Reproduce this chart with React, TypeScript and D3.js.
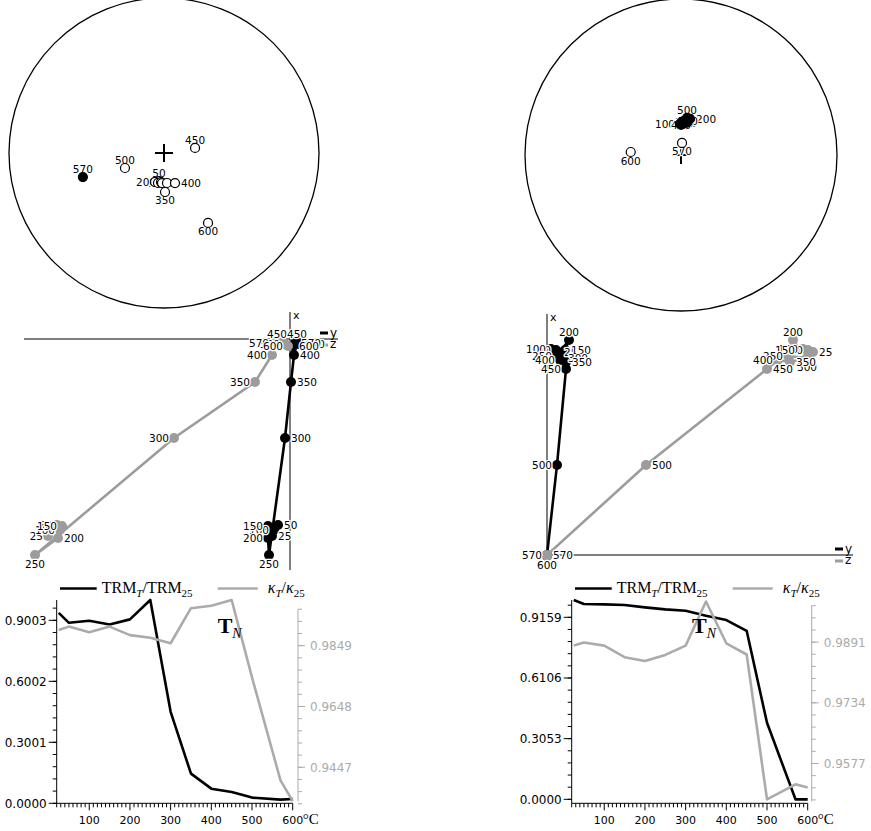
import React from 'react';
import * as d3 from 'd3';

// demagnetisation steps (deg C), shared by both specimens
const STEPS = [25, 50, 100, 150, 200, 250, 300, 350, 400, 450, 500, 570, 600];

// ---- specimen A (left column) ----
const A_DEC = [193.6, 190.1, 197.2, 191.3, 185.9, 183.8, 174.3, 178.5, 159.9, 80.8, 249.0, 253.5, 147.8];
const A_INC = [-74.4, -75.1, -74.1, -74.0, -74.7, -74.2, -74.2, -69.5, -73.2, -73.5, -68.0, 44.6, -45.7];
const A_X = [-1.97, -1.86, -1.91, -1.87, -1.99, -2.16, -0.99, -0.43, -0.16, -0.03, -0.05, -0.04, -0.07];
const A_Y = [-0.18, -0.12, -0.16, -0.22, -0.22, -0.21, -0.05, 0.01, 0.04, 0.07, 0.09, 0.05, 0.03];
const A_Z = [-2.42, -2.33, -2.3, -2.28, -2.32, -2.55, -1.16, -0.35, -0.18, -0.13, -0.05, -0.16, -0.02];
const A_TRM = [0.937, 0.888, 0.898, 0.88, 0.905, 1.0003, 0.45, 0.146, 0.072, 0.056, 0.028, 0.018, 0.021];
const A_KAPPA = [0.9901, 0.9912, 0.9893, 0.9912, 0.9884, 0.9875, 0.9857, 0.9973, 0.9981, 1.0, 0.9744, 0.9404, 0.9335];
const A_TRM_TICKS = [0, 0.3001, 0.6002, 0.9003];
const A_KAPPA_TICKS = [0.9447, 0.9648, 0.9849];

// ---- specimen B (right column) ----
const B_DEC = [1.7, 5.0, 358.2, 8.4, 14.0, 6.9, 10.6, 11.6, 3.7, 0.0, 9.2, 4.8, 273.4];
const B_INC = [72.7, 72.1, 73.7, 71.9, 70.5, 72.6, 72.9, 71.8, 73.7, 74.3, 70.3, -83.7, -63.6];
const B_X = [2.03, 2.05, 2.06, 2.05, 2.15, 1.99, 1.97, 1.93, 1.95, 1.86, 0.9, 0.0, -0.01];
const B_Y = [0.11, 0.09, 0.04, 0.18, 0.22, 0.1, 0.15, 0.19, 0.13, 0.19, 0.1, 0.0, 0.0];
const B_Z = [2.66, 2.61, 2.56, 2.53, 2.46, 2.41, 2.6, 2.43, 2.31, 2.2, 0.99, 0.0, 0.0];
const B_TRM = [1.003, 0.983, 0.981, 0.978, 0.966, 0.956, 0.949, 0.924, 0.902, 0.848, 0.385, 0.0, 0.0];
const B_KAPPA = [0.9882, 0.989, 0.9882, 0.9852, 0.9842, 0.9858, 0.9882, 0.9996, 0.9888, 0.9859, 0.9484, 0.9523, 0.9515];
const B_TRM_TICKS = [0, 0.3053, 0.6106, 0.9159];
const B_KAPPA_TICKS = [0.9577, 0.9734, 0.9891];

const TEMP_TICKS = [100, 200, 300, 400, 500, 600];

const SANS = '"DejaVu Sans", sans-serif';
const SERIF = '"Liberation Serif", "DejaVu Serif", serif';
const GREY = '#9c9c9c';
const GREY_AXIS = '#ababab';

// label placement per step (t/b/l/r, c = under the marker), layout only
const LEFT_LAYOUT = {
  stereo: { cx: 164, cy: 153, R: 155, sides: 'ctcclccbrtttb' },
  zij: { h: [-2.66, 0.48], hr: [24, 338], v: [0.27, -2.31], vr: [312, 570], legendX: 320,
    blackSides: 'rrlllbrrrtrrr', greySides: 'llllrbllltlll' },
  chart: { x0: 56.7, trmDomain: [0, 1.0003], kapDomain: [0.9328, 1.0], kapAxisX: 298 },
};
const RIGHT_LAYOUT = {
  stereo: { cx: 681, cy: 155, R: 156, sides: 'cclcrcccccttbb'.slice(0, 10) + 'tbb' },
  zij: { h: [-0.07, 3.06], hr: [540, 853], v: [2.41, -0.05], vr: [314, 560], legendX: 835,
    blackSides: 'rllrtlrrllllb', greySides: 'rllltlbrlrrrb' },
  chart: { x0: 571.7, trmDomain: [-0.02, 1.003], kapDomain: [0.9474, 1.0], kapAxisX: 811.7 },
};

const halo = { stroke: '#fff', strokeWidth: 2.5, paintOrder: 'stroke' as const, strokeLinejoin: 'round' as const };

function labelAt(x: number, y: number, side: string) {
  if (side === 't') return { x, y: y - 4, textAnchor: 'middle' };
  if (side === 'b') return { x, y: y + 12.5, textAnchor: 'middle' };
  if (side === 'c') return { x, y: y + 4, textAnchor: 'middle' };
  if (side === 'l') return { x: x - 5, y: y + 4, textAnchor: 'end' };
  return { x: x + 6, y: y + 4, textAnchor: 'start' };
}

function Stereonet({ cx, cy, R, sides, dec, inc }: any) {
  const rad = d3.scaleSqrt().domain([0, 1]).range([0, R]);
  const pts = STEPS.map((s, i) => {
    const r = rad(1 - Math.sin((Math.abs(inc[i]) * Math.PI) / 180));
    const a = (dec[i] * Math.PI) / 180;
    return { s, x: cx + r * Math.sin(a), y: cy - r * Math.cos(a), down: inc[i] >= 0, side: sides[i] };
  });
  return (
    <g>
      <circle cx={cx} cy={cy} r={R} fill="none" stroke="#000" strokeWidth={1.3} />
      <path d={`M${cx - 9},${cy}h18M${cx},${cy - 9}v18`} stroke="#000" strokeWidth={2} />
      {pts.map((p) => {
        const l = labelAt(p.x, p.y, p.side);
        return (
          <text key={'l' + p.s} x={l.x} y={l.y} textAnchor={l.textAnchor as any} fontFamily={SANS} fontSize={10.5} {...halo}>
            {p.s}
          </text>
        );
      })}
      {pts.map((p) => (
        <circle key={'p' + p.s} cx={p.x} cy={p.y} r={4.5} fill={p.down ? '#000' : '#fff'} stroke="#000" strokeWidth={1.2} />
      ))}
    </g>
  );
}

function Zijderveld({ h, hr, v, vr, legendX, blackSides, greySides, X, Y, Z }: any) {
  const hs = d3.scaleLinear().domain(h).range(hr);
  const vs = d3.scaleLinear().domain(v).range(vr);
  const black = STEPS.map((s, i) => ({ s, x: hs(Y[i]), y: vs(X[i]), side: blackSides[i] }));
  const grey = STEPS.map((s, i) => ({ s, x: hs(Z[i]), y: vs(X[i]), side: greySides[i] }));
  const line = d3.line<any>().x((d) => d.x).y((d) => d.y);
  const y0 = vs(0);
  const x0 = hs(0);
  const labels = (pts: any[], key: string) =>
    pts.map((p) => {
      const l = labelAt(p.x, p.y, p.side);
      return (
        <text key={key + p.s} x={l.x} y={l.y} textAnchor={l.textAnchor as any} fontFamily={SANS} fontSize={10.5} fill="#000" {...halo}>
          {p.s}
        </text>
      );
    });
  return (
    <g>
      <line x1={hr[0]} x2={hr[1]} y1={y0} y2={y0} stroke="#000" strokeWidth={1} />
      <line x1={x0} x2={x0} y1={vr[0]} y2={vr[1]} stroke="#000" strokeWidth={1} />
      <text x={x0 + 3} y={vr[0] + 7} fontFamily={SANS} fontSize={11}>x</text>
      <line x1={legendX} x2={legendX + 8} y1={y0 - 6} y2={y0 - 6} stroke="#000" strokeWidth={3} />
      <text x={legendX + 10} y={y0 - 2} fontFamily={SANS} fontSize={12}>y</text>
      <line x1={legendX} x2={legendX + 8} y1={y0 + 6} y2={y0 + 6} stroke={GREY} strokeWidth={3} />
      <text x={legendX + 10} y={y0 + 9} fontFamily={SANS} fontSize={12}>z</text>
      <path d={line(black) || ''} fill="none" stroke="#000" strokeWidth={2.6} />
      {black.map((p) => <circle key={'b' + p.s} cx={p.x} cy={p.y} r={5} fill="#000" />)}
      <path d={line(grey) || ''} fill="none" stroke={GREY} strokeWidth={2.6} />
      {grey.map((p) => <circle key={'g' + p.s} cx={p.x} cy={p.y} r={5} fill={GREY} />)}
      {labels(grey, 'lg')}
      {labels(black, 'lb')}
    </g>
  );
}

function minorTicks(major: number[], domain: number[]) {
  const step = (major[1] - major[0]) / 5;
  const out: number[] = [];
  const eps = step * 0.05;
  for (let t = major[0]; t >= domain[0] - eps; t -= step) out.push(t);
  for (let t = major[0] + step; t <= domain[1] + eps; t += step) out.push(t);
  return out;
}

function DecayChart({ x0, trmDomain, kapDomain, kapAxisX, trm, kap, trmTicks, kapTicks }: any) {
  const top = 600;
  const bottom = 803.3;
  const x = d3.scaleLinear().domain([20, 600]).range([x0, x0 + 236]);
  const yT = d3.scaleLinear().domain(trmDomain).range([bottom, top]);
  const yK = d3.scaleLinear().domain(kapDomain).range([bottom, top]);
  const lineT = d3.line<number>().x((_, i) => x(STEPS[i])).y((d) => yT(d));
  const lineK = d3.line<number>().x((_, i) => x(STEPS[i])).y((d) => yK(d));
  const tMinor = minorTicks(trmTicks, trmDomain).filter((t) => t >= 0);
  const kMinor = minorTicks(kapTicks, kapDomain);
  const kTop = yK(d3.max(kMinor) as number);
  const xMinor = d3.range(20, 601, 10).filter((t) => t % 100 !== 0);
  const peak = STEPS[d3.maxIndex(kap)];
  const lx = x0;
  return (
    <g>
      {/* legend */}
      <line x1={lx + 3.3} x2={lx + 40} y1={588.5} y2={588.5} stroke="#000" strokeWidth={2.6} />
      <text x={lx + 45} y={592.5} fontFamily={SERIF} fontSize={16}>
        TRM<tspan fontStyle="italic" fontSize={11} dy={4}>T</tspan>
        <tspan dy={-4}>/TRM</tspan>
        <tspan fontSize={11} dy={4}>25</tspan>
      </text>
      <line x1={lx + 161} x2={lx + 201} y1={588.5} y2={588.5} stroke={GREY_AXIS} strokeWidth={2.6} />
      <text x={lx + 211} y={592.5} fontFamily={SERIF} fontSize={16}>
        <tspan fontStyle="italic">κ</tspan>
        <tspan fontStyle="italic" fontSize={11} dy={4}>T</tspan>
        <tspan dy={-4}>/</tspan>
        <tspan fontStyle="italic">κ</tspan>
        <tspan fontSize={11} dy={4}>25</tspan>
      </text>

      {/* left axis */}
      <line x1={x0} x2={x0} y1={top} y2={bottom} stroke="#000" strokeWidth={1} />
      {tMinor.map((t) => <line key={'tm' + t} x1={x0 - 4} x2={x0} y1={yT(t)} y2={yT(t)} stroke="#000" />)}
      {trmTicks.map((t: number) => (
        <g key={'tt' + t}>
          <line x1={x0 - 8} x2={x0} y1={yT(t)} y2={yT(t)} stroke="#000" />
          <text x={x0 - 10} y={yT(t) + 4.5} textAnchor="end" fontFamily={SANS} fontSize={12}>{t.toFixed(4)}</text>
        </g>
      ))}

      {/* bottom axis */}
      <line x1={x0} x2={x(600)} y1={bottom} y2={bottom} stroke="#000" strokeWidth={1} />
      {xMinor.map((t) => <line key={'xm' + t} x1={x(t)} x2={x(t)} y1={bottom} y2={bottom + 4} stroke="#000" />)}
      {TEMP_TICKS.map((t) => (
        <g key={'xt' + t}>
          <line x1={x(t)} x2={x(t)} y1={bottom} y2={bottom + 7} stroke="#000" />
          <text x={x(t)} y={824} textAnchor="middle" fontFamily={SANS} fontSize={11}>{t}</text>
        </g>
      ))}
      <text x={x(600) + 10} y={824} fontFamily={SERIF} fontSize={15}>°C</text>

      {/* right kappa axis */}
      <line x1={kapAxisX} x2={kapAxisX} y1={kTop} y2={bottom - 2} stroke={GREY_AXIS} strokeWidth={1} />
      {kMinor.map((t) => <line key={'km' + t} x1={kapAxisX} x2={kapAxisX + 4} y1={yK(t)} y2={yK(t)} stroke={GREY_AXIS} />)}
      {kapTicks.map((t: number) => (
        <g key={'kt' + t}>
          <line x1={kapAxisX} x2={kapAxisX + 7} y1={yK(t)} y2={yK(t)} stroke={GREY_AXIS} />
          <text x={kapAxisX + 12} y={yK(t) + 4.5} fontFamily={SANS} fontSize={12} fill={GREY_AXIS}>{t.toFixed(4)}</text>
        </g>
      ))}

      <path d={lineT(trm) || ''} fill="none" stroke="#000" strokeWidth={2.6} strokeLinejoin="round" />
      <path d={lineK(kap) || ''} fill="none" stroke={GREY_AXIS} strokeWidth={2.6} strokeLinejoin="round" />

      <text x={x(peak) - 14} y={632.5} fontFamily={SERIF} fontSize={22} fontWeight="bold">
        T<tspan fontWeight="normal" fontStyle="italic" fontSize={14} dy={5}>N</tspan>
      </text>
    </g>
  );
}

function Column({ layout, dec, inc, X, Y, Z, trm, kap, trmTicks, kapTicks }: any) {
  return (
    <g>
      <Stereonet {...layout.stereo} dec={dec} inc={inc} />
      <Zijderveld {...layout.zij} X={X} Y={Y} Z={Z} />
      <DecayChart {...layout.chart} trm={trm} kap={kap} trmTicks={trmTicks} kapTicks={kapTicks} />
    </g>
  );
}

export default function App() {
  return (
    <svg
      width={871}
      height={831}
      viewBox="0 0 871 831"
      style={{ position: 'absolute', left: 0, top: 0, background: '#fff' }}
    >
      <Column layout={LEFT_LAYOUT} dec={A_DEC} inc={A_INC} X={A_X} Y={A_Y} Z={A_Z}
        trm={A_TRM} kap={A_KAPPA} trmTicks={A_TRM_TICKS} kapTicks={A_KAPPA_TICKS} />
      <Column layout={RIGHT_LAYOUT} dec={B_DEC} inc={B_INC} X={B_X} Y={B_Y} Z={B_Z}
        trm={B_TRM} kap={B_KAPPA} trmTicks={B_TRM_TICKS} kapTicks={B_KAPPA_TICKS} />
    </svg>
  );
}
